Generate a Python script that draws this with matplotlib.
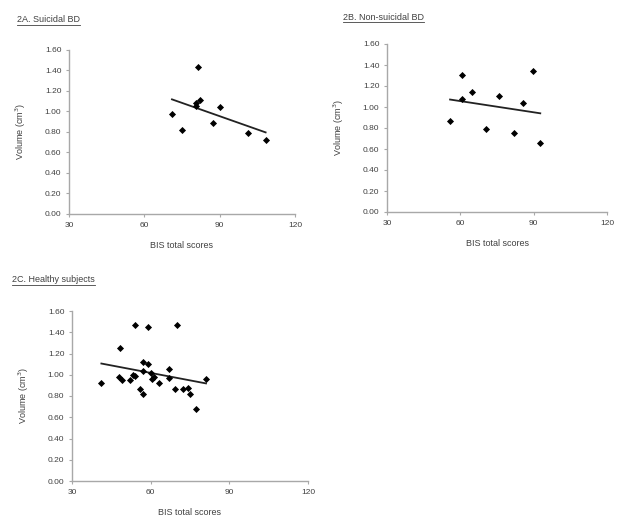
import numpy as np
import matplotlib
matplotlib.use('Agg')
import matplotlib.pyplot as plt
from matplotlib.lines import Line2D

plt.rcParams['font.family'] = ['Liberation Sans', 'DejaVu Sans']

# BIS total scores / volume values
bis_a = [71, 75, 81.3, 80.5, 80.5, 82.3, 90.3, 87.2, 101.2, 108.3]
vol_a = [0.98, 0.82, 1.43, 1.08, 1.05, 1.11, 1.04, 0.89, 0.79, 0.72]

bis_b = [55.8, 60.8, 60.8, 64.8, 70.6, 75.8, 81.8, 85.6, 89.6, 92.7]
vol_b = [0.87, 1.30, 1.08, 1.14, 0.79, 1.10, 0.75, 1.04, 1.34, 0.66]

bis_c = [41.2, 48.2, 48.0, 48.9, 52.1, 53.1, 54.1, 54.1, 56.0, 57.2, 57.1, 57.2,
         59.1, 59.1, 60.1, 60.5, 61.3, 63.2, 67.1, 67.1, 69.1, 70.2, 72.2, 74.1,
         75.0, 77.1, 81.1]
vol_c = [0.92, 1.25, 0.98, 0.95, 0.95, 1.00, 0.99, 1.47, 0.87, 0.82, 1.12, 1.04,
         1.45, 1.10, 1.02, 0.96, 0.98, 0.92, 1.05, 0.97, 0.87, 1.47, 0.87, 0.88,
         0.82, 0.68, 0.96]

titles = ['2A. Suicidal BD', '2B. Non-suicidal BD', '2C. Healthy subjects']
xticks = [30, 60, 90, 120]
yticks = [0.0, 0.2, 0.4, 0.6, 0.8, 1.0, 1.2, 1.4, 1.6]

W, H = 626, 523
fig = plt.figure(figsize=(W / 100, H / 100), dpi=100)

# axes boxes in pixels: left, top, right, bottom
boxes = [(69, 50, 295, 214), (387, 44, 607, 212), (72, 311, 308, 481)]
title_pos = [(17, 20), (343, 17), (12, 280)]
data = [(bis_a, vol_a), (bis_b, vol_b), (bis_c, vol_c)]

gray = '#a8a8a8'
txt = '#404040'
title_texts = []
for (l, t, r, b), (xs, ys), title, (tx, ty) in zip(boxes, data, titles, title_pos):
    ax = fig.add_axes([l / W, 1 - b / H, (r - l) / W, (b - t) / H])
    ax.scatter(xs, ys, marker='D', s=13, color='black', zorder=3, linewidths=0)
    k, c = np.polyfit(xs, ys, 1)
    xl = np.array([min(xs), max(xs)])
    ax.plot(xl, k * xl + c, color='#222222', lw=1.3)
    ax.set_xlim(30, 120)
    ax.set_ylim(0, 1.6)
    ax.set_xticks(xticks)
    ax.set_yticks(yticks)
    ax.set_yticklabels(['%.2f' % v for v in yticks])
    for s in ['top', 'right']:
        ax.spines[s].set_visible(False)
    for s in ['left', 'bottom']:
        ax.spines[s].set_color(gray)
        ax.spines[s].set_linewidth(1.0)
    ax.tick_params(colors=gray, labelcolor=txt, labelsize=6, length=2.5, width=0.8, pad=3)
    ax.set_xlabel('BIS total scores', fontsize=6.5, color=txt, labelpad=9)
    ax.set_ylabel('Volume (cm$^3$)', fontsize=6.5, color=txt, labelpad=12)
    t_ = fig.text(tx / W, 1 - ty / H, title, fontsize=6.5, color=txt, va='center')
    title_texts.append(t_)

# underline the panel titles
fig.canvas.draw()
r = fig.canvas.get_renderer()
for t_ in title_texts:
    bb = t_.get_window_extent(r)
    y = bb.y0 - 0.5
    fig.add_artist(Line2D([bb.x0 / W, bb.x1 / W], [y / H, y / H], color=txt, lw=0.6,
                          transform=fig.transFigure))

fig.savefig('out.png', dpi=100)
